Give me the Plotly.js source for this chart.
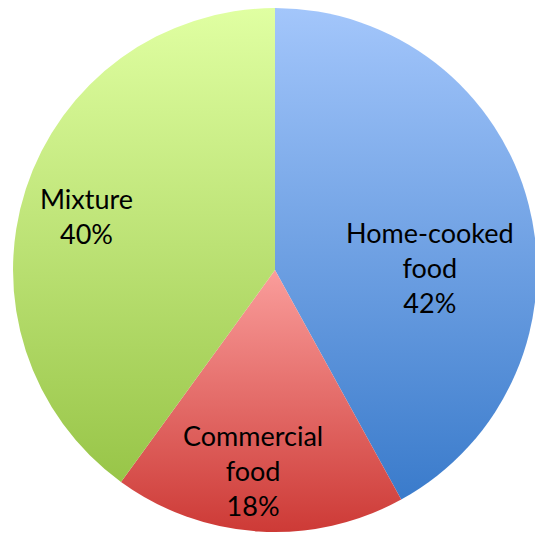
<!DOCTYPE html>
<html>
<head>
<meta charset="utf-8">
<script src="https://cdn.plot.ly/plotly-3.0.1.min.js"></script>
<style>
  html, body { margin: 0; padding: 0; background: #ffffff; overflow: hidden; }
  #chart { width: 540px; height: 537px; }
</style>
</head>
<body>
<div id="chart"></div>
<script>
// Food source shares
const categories = ['Home-cooked<br>food', 'Commercial<br>food', 'Mixture'];
const shares = [42, 18, 40];

// Vertical gradient per slice: [top colour, bottom colour]
const sliceGradients = [
  ['#a3c6fb', '#3a7bcb'],
  ['#fa9d9b', '#cd3a36'],
  ['#e0ffa2', '#98c548']
];

// Label block centres in paper coordinates
const labelPos = [
  [0.7963, 0.501],
  [0.4685, 0.123],
  [0.1611, 0.598]
];

const total = shares.reduce((a, b) => a + b, 0);

const trace = {
  type: 'pie',
  labels: categories,
  values: shares,
  sort: false,
  direction: 'clockwise',
  rotation: 0,
  textinfo: 'none',
  hoverinfo: 'label+percent',
  marker: {
    colors: sliceGradients.map(g => g[1]),
    line: { width: 0 }
  },
  domain: { x: [0.0241, 0.9944], y: [0.0093, 0.985] },
  showlegend: false
};

const annotations = categories.map((c, i) => ({
  xref: 'paper', yref: 'paper',
  x: labelPos[i][0], y: labelPos[i][1],
  xanchor: 'center', yanchor: 'middle',
  align: 'center',
  showarrow: false,
  text: c + '<br>' + Math.round(shares[i] / total * 100) + '%',
  font: { family: 'Lato, "Open Sans", sans-serif', size: 27, color: '#000000' }
}));

const layout = {
  width: 540,
  height: 537,
  margin: { l: 0, r: 0, t: 0, b: 0 },
  paper_bgcolor: '#ffffff',
  annotations: annotations
};

Plotly.newPlot('chart', [trace], layout, { displayModeBar: false, staticPlot: true }).then(gd => {
  const svgNS = 'http://www.w3.org/2000/svg';
  const svg = gd.querySelector('svg.main-svg');
  let defs = svg.querySelector('defs');
  if (!defs) { defs = document.createElementNS(svgNS, 'defs'); svg.insertBefore(defs, svg.firstChild); }
  sliceGradients.forEach((g, i) => {
    const lg = document.createElementNS(svgNS, 'linearGradient');
    lg.setAttribute('id', 'sliceGrad' + i);
    lg.setAttribute('x1', '0'); lg.setAttribute('y1', '0');
    lg.setAttribute('x2', '0'); lg.setAttribute('y2', '1');
    [[0, g[0]], [1, g[1]]].forEach(([o, col]) => {
      const st = document.createElementNS(svgNS, 'stop');
      st.setAttribute('offset', o);
      st.setAttribute('stop-color', col);
      lg.appendChild(st);
    });
    defs.appendChild(lg);
  });
  gd.querySelectorAll('g.slice').forEach((s, i) => {
    const p = s.querySelector('path.surface');
    if (p) p.style.fill = 'url(#sliceGrad' + i + ')';
  });
});
</script>
</body>
</html>
